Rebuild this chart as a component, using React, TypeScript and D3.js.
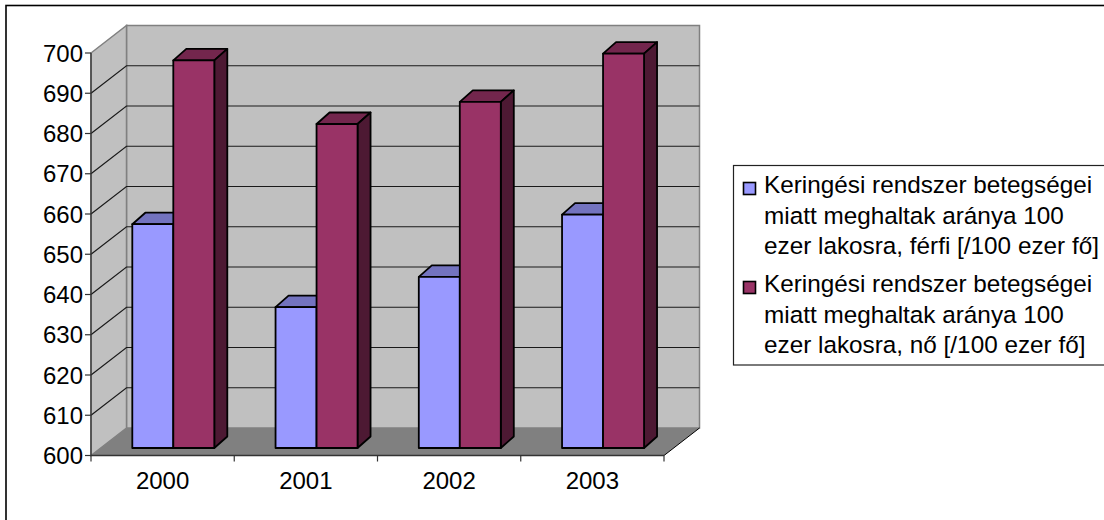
import React from "react";
import * as d3 from "d3";

const years = ["2000", "2001", "2002", "2003"];
const maleRate = [655.6, 635, 642.5, 658];
const femaleRate = [696.3, 680.5, 686, 698];
const yTicks = [600, 610, 620, 630, 640, 650, 660, 670, 680, 690, 700];
const legendLabels = [
  ["Keringési rendszer betegségei", "miatt meghaltak aránya 100", "ezer lakosra, férfi [/100 ezer fő]"],
  ["Keringési rendszer betegségei", "miatt meghaltak aránya 100", "ezer lakosra, nő [/100 ezer fő]"],
];

const FONT = "'Liberation Sans', Arial, sans-serif";
const FONT_SIZE = 24;
const LEGEND_FONT_SIZE = 24.3;
const frontLeft = 91;
const frontRight = 664;
const frontBase = 455.5;
const frontTop = 53;
const depthX = 35.5;
const depthY = -27.5;
const barDepthX = 13;
const barDepthY = -11.5;
const barBaseOffsetX = 10;
const barBaseOffsetY = -7.5;

const xBand = d3.scaleBand<string>().domain(years).range([frontLeft, frontRight]);
const yFront = d3.scaleLinear().domain([600, 700]).range([frontBase, frontTop]);
const yBack = (v: number) => yFront(v) + depthY;
const yBar = (v: number) => yFront(v) + barBaseOffsetY;

const barWidth = 41;
const barInset = 31.3;

const poly = (pts: [number, number][]) => pts.map((p) => p.join(",")).join(" ");

type BarProps = { x: number; value: number; front: string; top: string; side: string };

// A single 3D column: top face, right side face, then the front face.
function Bar({ x, value, front, top, side }: BarProps) {
  const y0 = yBar(600);
  const y1 = yBar(value);
  const x1 = x + barWidth;
  const common = { stroke: "#000", strokeWidth: 1.8, strokeLinejoin: "round" as const };
  return (
    <g>
      <polygon {...common} fill={top} points={poly([[x, y1], [x + barDepthX, y1 + barDepthY], [x1 + barDepthX, y1 + barDepthY], [x1, y1]])} />
      <polygon {...common} fill={side} points={poly([[x1, y1], [x1 + barDepthX, y1 + barDepthY], [x1 + barDepthX, y0 + barDepthY], [x1, y0]])} />
      <rect {...common} x={x} y={y1} width={barWidth} height={y0 - y1} fill={front} />
    </g>
  );
}

export default function App() {
  const backLeft = frontLeft + depthX;
  const backRight = frontRight + depthX;
  return (
    <svg width={1104} height={520} style={{ position: "absolute", left: 0, top: 0 }} fontFamily={FONT}>
      <rect x={0} y={0} width={1104} height={520} fill="#fff" />
      {/* Chart frame: its right and bottom edges fall outside the canvas */}
      <rect x={6} y={5.5} width={1110} height={530} fill="#fff" stroke="#000" strokeWidth={1.6} />

      {/* Back wall, side wall and floor */}
      <polygon points={poly([[backLeft, yBack(700)], [backRight, yBack(700)], [backRight, yBack(600)], [backLeft, yBack(600)]])} fill="#c0c0c0" stroke="#808080" strokeWidth={1.5} />
      <polygon points={poly([[frontLeft, yFront(700)], [backLeft, yBack(700)], [backLeft, yBack(600)], [frontLeft, yFront(600)]])} fill="#c0c0c0" stroke="#808080" strokeWidth={1.5} />
      <polygon points={poly([[frontLeft, yFront(600)], [backLeft, yBack(600)], [backRight, yBack(600)], [frontRight, yFront(600)]])} fill="#808080" />
      <line x1={frontRight} y1={yFront(600)} x2={backRight} y2={yBack(600)} stroke="#000" strokeWidth={1} />

      {/* Gridlines running along the side wall and the back wall */}
      {yTicks.slice(1, -1).map((t) => (
        <polyline key={t} points={poly([[frontLeft, yFront(t)], [backLeft, yBack(t)], [backRight, yBack(t)]])} stroke="#1a1a1a" strokeWidth={1.2} fill="none" />
      ))}

      {/* Value axis */}
      <line x1={frontLeft} y1={yFront(700)} x2={frontLeft} y2={yFront(600)} stroke="#333" strokeWidth={1.3} />
      {yTicks.map((t) => (
        <g key={t}>
          <line x1={frontLeft - 6} x2={frontLeft} y1={yFront(t)} y2={yFront(t)} stroke="#333" strokeWidth={1.2} />
          <text x={frontLeft - 8} y={yFront(t) + 8.5} textAnchor="end" fontSize={FONT_SIZE} fill="#000">{t}</text>
        </g>
      ))}

      {/* Category axis */}
      <line x1={frontLeft} x2={frontRight} y1={frontBase} y2={frontBase} stroke="#333" strokeWidth={1.3} />
      {[...years.map((y) => xBand(y)!), frontRight].map((x, i) => (
        <line key={i} x1={x} x2={x} y1={frontBase} y2={frontBase + 6} stroke="#333" strokeWidth={1.2} />
      ))}
      {years.map((y) => (
        <text key={y} x={xBand(y)! + xBand.bandwidth() / 2} y={489} textAnchor="middle" fontSize={FONT_SIZE} fill="#000">{y}</text>
      ))}

      {/* Columns */}
      {years.map((y, i) => {
        const x = xBand(y)! + barBaseOffsetX + barInset;
        return (
          <g key={y}>
            <Bar x={x} value={maleRate[i]} front="#9999ff" top="#7373bf" side="#4d4d80" />
            <Bar x={x + barWidth} value={femaleRate[i]} front="#993366" top="#73264d" side="#4d1933" />
          </g>
        );
      })}

      {/* Legend: the box runs past the right side of the canvas */}
      <rect x={733.5} y={165.5} width={380} height={199.5} fill="#fff" stroke="#222" strokeWidth={1.2} />
      {legendLabels.map((lines, i) => (
        <g key={i}>
          <rect x={743.5} y={182.5 + i * 99} width={12} height={12} fill={i === 0 ? "#9999ff" : "#993366"} stroke="#000" strokeWidth={1.6} />
          {lines.map((l, j) => (
            <text key={j} x={764} y={193 + i * 99 + j * 30.5} fontSize={LEGEND_FONT_SIZE} fill="#000">{l}</text>
          ))}
        </g>
      ))}
    </svg>
  );
}
